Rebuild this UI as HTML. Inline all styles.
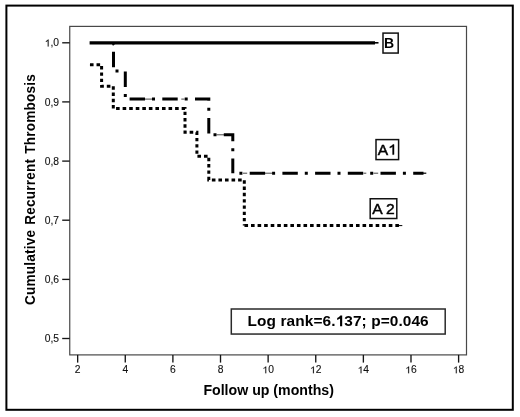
<!DOCTYPE html>
<html>
<head>
<meta charset="utf-8">
<style>
html,body{margin:0;padding:0;background:#fff;}
body{width:520px;height:417px;overflow:hidden;position:relative;}
svg{position:absolute;left:0;top:0;display:block;will-change:transform;}
text{font-family:"Liberation Sans", sans-serif;}
</style>
</head>
<body>
<svg width="520" height="417" viewBox="0 0 520 417">
  <rect x="0" y="0" width="520" height="417" fill="#fff"/>
  <rect x="6.4" y="5.6" width="506.4" height="404.2" fill="none" stroke="#000" stroke-width="2"/>
  <rect x="69.75" y="26.4" width="396.75" height="328.5" fill="none" stroke="#484848" stroke-width="1.2"/>
  <g stroke="#151515" stroke-width="1.35">
    <line x1="62.2" y1="42.8" x2="69.7" y2="42.8"/>
    <line x1="62.2" y1="101.9" x2="69.7" y2="101.9"/>
    <line x1="62.2" y1="161.1" x2="69.7" y2="161.1"/>
    <line x1="62.2" y1="220.2" x2="69.7" y2="220.2"/>
    <line x1="62.2" y1="279.4" x2="69.7" y2="279.4"/>
    <line x1="62.2" y1="338.5" x2="69.7" y2="338.5"/>
    <line x1="77.65" y1="354.9" x2="77.65" y2="362.6"/>
    <line x1="125.27" y1="354.9" x2="125.27" y2="362.6"/>
    <line x1="172.89" y1="354.9" x2="172.89" y2="362.6"/>
    <line x1="220.51" y1="354.9" x2="220.51" y2="362.6"/>
    <line x1="268.13" y1="354.9" x2="268.13" y2="362.6"/>
    <line x1="315.75" y1="354.9" x2="315.75" y2="362.6"/>
    <line x1="363.37" y1="354.9" x2="363.37" y2="362.6"/>
    <line x1="410.99" y1="354.9" x2="410.99" y2="362.6"/>
    <line x1="458.61" y1="354.9" x2="458.61" y2="362.6"/>
  </g>
  <path transform="translate(44.78,46.40) scale(0.00503,-0.00488)" d="M763 0H583V1120Q470 1020 221 925V1090Q470 1200 640 1409H763Z" fill="#111" stroke="#111" stroke-width="0.12" vector-effect="non-scaling-stroke"/><text transform="translate(50.51,46.40) scale(1.030,1)" font-size="10.0" fill="#111" stroke="#111" stroke-width="0.12">,0</text>
  <text transform="translate(44.78,105.50) scale(1.030,1)" font-size="10.0" fill="#111" stroke="#111" stroke-width="0.12">0,9</text>
  <text transform="translate(44.78,164.70) scale(1.030,1)" font-size="10.0" fill="#111" stroke="#111" stroke-width="0.12">0,8</text>
  <text transform="translate(44.78,223.80) scale(1.030,1)" font-size="10.0" fill="#111" stroke="#111" stroke-width="0.12">0,7</text>
  <text transform="translate(44.78,283.00) scale(1.030,1)" font-size="10.0" fill="#111" stroke="#111" stroke-width="0.12">0,6</text>
  <text transform="translate(44.78,342.10) scale(1.030,1)" font-size="10.0" fill="#111" stroke="#111" stroke-width="0.12">0,5</text>
  <text transform="translate(74.79,373.30) scale(1.030,1)" font-size="10.0" fill="#111" stroke="#111" stroke-width="0.12">2</text>
  <text transform="translate(122.41,373.30) scale(1.030,1)" font-size="10.0" fill="#111" stroke="#111" stroke-width="0.12">4</text>
  <text transform="translate(170.03,373.30) scale(1.030,1)" font-size="10.0" fill="#111" stroke="#111" stroke-width="0.12">6</text>
  <text transform="translate(217.65,373.30) scale(1.030,1)" font-size="10.0" fill="#111" stroke="#111" stroke-width="0.12">8</text>
  <path transform="translate(262.40,373.30) scale(0.00503,-0.00488)" d="M763 0H583V1120Q470 1020 221 925V1090Q470 1200 640 1409H763Z" fill="#111" stroke="#111" stroke-width="0.12" vector-effect="non-scaling-stroke"/><text transform="translate(268.13,373.30) scale(1.030,1)" font-size="10.0" fill="#111" stroke="#111" stroke-width="0.12">0</text>
  <path transform="translate(310.02,373.30) scale(0.00503,-0.00488)" d="M763 0H583V1120Q470 1020 221 925V1090Q470 1200 640 1409H763Z" fill="#111" stroke="#111" stroke-width="0.12" vector-effect="non-scaling-stroke"/><text transform="translate(315.75,373.30) scale(1.030,1)" font-size="10.0" fill="#111" stroke="#111" stroke-width="0.12">2</text>
  <path transform="translate(357.64,373.30) scale(0.00503,-0.00488)" d="M763 0H583V1120Q470 1020 221 925V1090Q470 1200 640 1409H763Z" fill="#111" stroke="#111" stroke-width="0.12" vector-effect="non-scaling-stroke"/><text transform="translate(363.37,373.30) scale(1.030,1)" font-size="10.0" fill="#111" stroke="#111" stroke-width="0.12">4</text>
  <path transform="translate(405.26,373.30) scale(0.00503,-0.00488)" d="M763 0H583V1120Q470 1020 221 925V1090Q470 1200 640 1409H763Z" fill="#111" stroke="#111" stroke-width="0.12" vector-effect="non-scaling-stroke"/><text transform="translate(410.99,373.30) scale(1.030,1)" font-size="10.0" fill="#111" stroke="#111" stroke-width="0.12">6</text>
  <path transform="translate(452.88,373.30) scale(0.00503,-0.00488)" d="M763 0H583V1120Q470 1020 221 925V1090Q470 1200 640 1409H763Z" fill="#111" stroke="#111" stroke-width="0.12" vector-effect="non-scaling-stroke"/><text transform="translate(458.61,373.30) scale(1.030,1)" font-size="10.0" fill="#111" stroke="#111" stroke-width="0.12">8</text>
  <text transform="translate(203.40,395.20) scale(1.020,1)" font-size="13.9" font-weight="bold" fill="#000">Follow up (months)</text>
  <line x1="89.6" y1="42.8" x2="375" y2="42.8" stroke="#000" stroke-width="3.2"/>
  <line x1="374" y1="42.8" x2="378.5" y2="42.8" stroke="#000" stroke-width="1.6"/>
  <line x1="113.2" y1="42.8" x2="113.2" y2="45.6" stroke="#000" stroke-width="1.2"/>
  <path d="M144.5 99.1H152.5M181.3 99.1H184.5M216.5 134.8H224M243 173.2H247.2M264.5 173.2H272.5M363.5 173.2H366.3M373.5 173.2H378.2" fill="none" stroke="#333" stroke-width="0.9"/>
  <path d="M113.50 42.80L113.50 44.50M113.50 51.80L113.50 67.20M115.50 70.90L118.50 70.90M125.30 71.60L125.30 87.00M125.30 94.00L125.30 97.00M129.60 99.10L145.00 99.10M152.00 99.10L155.00 99.10M162.30 99.10L177.70 99.10M184.70 99.10L187.70 99.10M195.00 99.10L208.80 99.10L208.80 100.70M208.80 107.70L208.80 110.70M208.80 118.00L208.80 133.40M213.50 134.80L216.50 134.80M223.80 134.80L232.80 134.80L232.80 141.20M232.80 148.20L232.80 151.20M232.80 158.50L232.80 173.20M239.40 173.20L242.40 173.20M249.70 173.20L265.10 173.20M272.10 173.20L275.10 173.20M282.40 173.20L297.80 173.20M304.80 173.20L307.80 173.20M315.10 173.20L330.50 173.20M337.50 173.20L340.50 173.20M347.80 173.20L363.20 173.20M370.20 173.20L373.20 173.20M380.50 173.20L395.90 173.20M402.90 173.20L405.90 173.20M413.20 173.20L423.50 173.20" fill="none" stroke="#000" stroke-width="3"/>
  <line x1="422" y1="173.2" x2="426.3" y2="173.2" stroke="#000" stroke-width="1.2"/>
  <path d="M89.96 64.70L93.56 64.70M96.52 64.70L100.12 64.70M101.60 66.11L101.60 69.55M101.60 72.38L101.60 75.82M101.60 78.64L101.60 82.08M101.60 84.91L101.60 86.20L103.85 86.20M106.81 86.20L110.41 86.20M113.30 86.26L113.30 89.70M113.30 92.53L113.30 95.97M113.30 98.79L113.30 102.23M113.30 105.06L113.30 108.50M116.06 108.60L119.66 108.60M122.62 108.60L126.22 108.60M129.18 108.60L132.78 108.60M135.74 108.60L139.34 108.60M142.30 108.60L145.90 108.60M148.86 108.60L152.46 108.60M155.42 108.60L159.02 108.60M161.98 108.60L165.58 108.60M168.54 108.60L172.14 108.60M175.10 108.60L178.70 108.60M181.66 108.60L185.00 108.60L185.00 108.85M185.00 111.68L185.00 115.11M185.00 117.94L185.00 121.38M185.00 124.20L185.00 127.64M185.00 130.47L185.00 132.30L186.68 132.30M189.64 132.30L193.24 132.30M196.20 132.30L196.90 132.30L196.90 135.07M196.90 137.90L196.90 141.34M196.90 144.16L196.90 147.60M196.90 150.43L196.90 153.87M197.42 156.20L201.02 156.20M203.98 156.20L207.58 156.20M208.80 157.86L208.80 161.30M208.80 164.12L208.80 167.56M208.80 170.39L208.80 173.83M208.80 176.65L208.80 180.00L208.90 180.00M211.86 180.00L215.46 180.00M218.42 180.00L222.02 180.00M224.98 180.00L228.58 180.00M231.54 180.00L235.14 180.00M238.10 180.00L241.70 180.00M244.30 180.34L244.30 183.78M244.30 186.60L244.30 190.04M244.30 192.87L244.30 196.31M244.30 199.13L244.30 202.57M244.30 205.40L244.30 208.84M244.30 211.66L244.30 215.10M244.30 217.93L244.30 221.37M244.30 224.19L244.30 225.60M244.46 225.60L248.06 225.60M251.02 225.60L254.62 225.60M257.58 225.60L261.18 225.60M264.14 225.60L267.74 225.60M270.70 225.60L274.30 225.60M277.26 225.60L280.86 225.60M283.82 225.60L287.42 225.60M290.38 225.60L293.98 225.60M296.94 225.60L300.54 225.60M303.50 225.60L307.10 225.60M310.06 225.60L313.66 225.60M316.62 225.60L320.22 225.60M323.18 225.60L326.78 225.60M329.74 225.60L333.34 225.60M336.30 225.60L339.90 225.60M342.86 225.60L346.46 225.60M349.42 225.60L353.02 225.60M355.98 225.60L359.58 225.60M362.54 225.60L366.14 225.60M369.10 225.60L372.70 225.60M375.66 225.60L379.26 225.60M382.22 225.60L385.82 225.60M388.78 225.60L392.38 225.60M395.34 225.60L398.94 225.60" fill="none" stroke="#000" stroke-width="3"/>
  <line x1="397" y1="225.6" x2="402.3" y2="225.6" stroke="#000" stroke-width="1"/>
  <rect x="383" y="33.1" width="15.2" height="19.95" fill="#fff" stroke="#111" stroke-width="1.5"/>
  <rect x="376" y="139.6" width="22.6" height="20" fill="#fff" stroke="#111" stroke-width="1.5"/>
  <rect x="370.2" y="198.75" width="26.6" height="19.75" fill="#fff" stroke="#111" stroke-width="1.5"/>
  <rect x="231.3" y="309" width="213.9" height="25.05" fill="#fff" stroke="#2a2a2a" stroke-width="1.5"/>
    <text transform="translate(34.9,305.0) scale(1.1,1) rotate(-90)" font-size="13.6" letter-spacing="0.2" word-spacing="1" font-weight="bold" fill="#000">Cumulative Recurrent Thrombosis</text>
  <text transform="translate(384.00,47.80) scale(1.000,1)" font-size="14" font-weight="bold" fill="#000">B</text>
  <text transform="translate(377.80,154.60) scale(1.060,1)" font-size="14.7" fill="#000" stroke="#000" stroke-width="0.45">A</text><path transform="translate(388.19,154.60) scale(0.00761,-0.00718)" d="M763 0H583V1120Q470 1020 221 925V1090Q470 1200 640 1409H763Z" fill="#000" stroke="#000" stroke-width="0.45" vector-effect="non-scaling-stroke"/>
  <text transform="translate(372.20,213.80) scale(1.050,1)" font-size="14.9" fill="#000" stroke="#000" stroke-width="0.45">A 2</text>
  <text transform="translate(247.60,326.20) scale(1.000,1)" font-size="15.4" font-weight="bold" fill="#000" letter-spacing="0.1">Log rank=6.</text><path transform="translate(335.57,326.20) scale(0.00752,-0.00752)" d="M880 0H598V1030Q440 900 215 835V1080Q480 1160 640 1409H880Z" fill="#000"/><text transform="translate(344.23,326.20) scale(1.000,1)" font-size="15.4" font-weight="bold" fill="#000" letter-spacing="0.1">37; p=0.046</text>
</svg>
</body>
</html>
